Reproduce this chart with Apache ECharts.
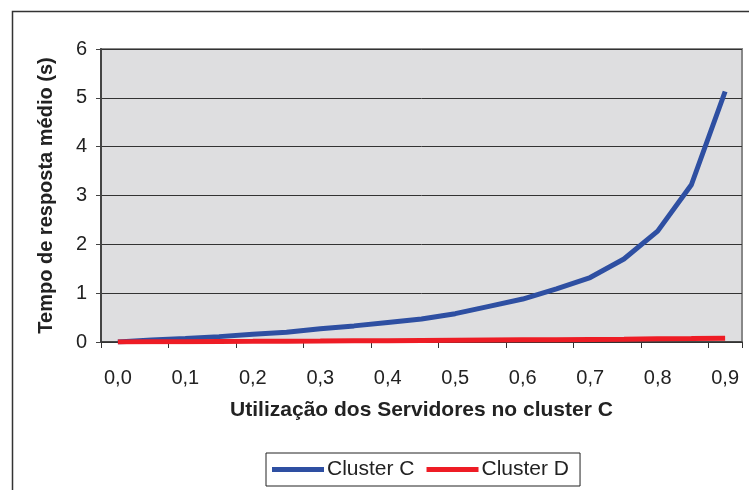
<!DOCTYPE html>
<html>
<head>
<meta charset="utf-8">
<script src="https://cdn.jsdelivr.net/npm/echarts@6/dist/echarts.min.js"></script>
<style>html,body{margin:0;padding:0;background:#fff;}#c{width:749px;height:490px;}</style>
</head>
<body>
<div id="c"></div>
<script>
const categories = ["0,0","0,05","0,1","0,15","0,2","0,25","0,3","0,35","0,4","0,45","0,5","0,55","0,6","0,65","0,7","0,75","0,8","0,85","0,9"];
const clusterC = [0, 0.04, 0.07, 0.11, 0.16, 0.20, 0.27, 0.33, 0.40, 0.47, 0.58, 0.73, 0.88, 1.09, 1.32, 1.70, 2.27, 3.22, 5.13];
const clusterD = [0, 0.003, 0.006, 0.01, 0.013, 0.017, 0.02, 0.024, 0.028, 0.032, 0.036, 0.04, 0.044, 0.048, 0.053, 0.058, 0.064, 0.07, 0.078];
const yTicks = [0, 1, 2, 3, 4, 5, 6];

const font = "'Liberation Sans', Arial, sans-serif";
const chart = echarts.init(document.getElementById('c'), null, {renderer: 'canvas'});
chart.setOption({
  backgroundColor: '#ffffff',
  animation: false,
  graphic: [{
    type: 'rect', left: 10, top: 9, z: -10,
    shape: {x: 0, y: 0, width: 800, height: 600},
    style: {fill: 'none', stroke: '#333', lineWidth: 1.5}
  }],
  grid: {
    left: 101, right: 7, top: 49, bottom: 148,
    show: true, backgroundColor: '#dedee0', borderColor: '#888', borderWidth: 2
  },
  legend: {
    bottom: 4, left: 266,
    data: ['Cluster C', 'Cluster D'],
    icon: 'rect', itemWidth: 52, itemHeight: 5, itemGap: 12,
    borderColor: '#222', borderWidth: 1, padding: [6, 11, 6, 6],
    textStyle: {fontFamily: font, fontSize: 21, color: '#222', padding: [0, 0, 0, -2]}
  },
  xAxis: {
    type: 'category', data: categories, boundaryGap: true,
    name: 'Utilização dos Servidores no cluster C', nameLocation: 'middle', nameGap: 58,
    nameTextStyle: {fontFamily: font, fontSize: 21, fontWeight: 'bold', color: '#222'},
    axisLine: {lineStyle: {color: '#333', width: 1.5}},
    axisTick: {show: true, interval: 1, length: 6, lineStyle: {color: '#333'}},
    axisLabel: {interval: 1, margin: 26, fontFamily: font, fontSize: 20, color: '#222'},
    splitLine: {show: false}
  },
  yAxis: {
    type: 'value', min: yTicks[0], max: yTicks[yTicks.length - 1], interval: 1,
    name: 'Tempo de resposta médio (s)', nameLocation: 'middle', nameGap: 45,
    nameTextStyle: {fontFamily: font, fontSize: 20, fontWeight: 'bold', color: '#222'},
    axisLine: {show: true, lineStyle: {color: '#444', width: 2}},
    axisTick: {show: true, length: 5, lineStyle: {color: '#444'}},
    axisLabel: {margin: 14, fontFamily: font, fontSize: 20, color: '#222'},
    splitLine: {show: true, lineStyle: {color: '#333', width: 1}}
  },
  series: [
    {name: 'Cluster C', type: 'line', data: clusterC, symbol: 'none',
     lineStyle: {color: '#2e4fa2', width: 5}, itemStyle: {color: '#2e4fa2'}, z: 3},
    {name: 'Cluster D', type: 'line', data: clusterD, symbol: 'none',
     lineStyle: {color: '#ee1c25', width: 5}, itemStyle: {color: '#ee1c25'}, z: 4}
  ]
});
</script>
</body>
</html>
